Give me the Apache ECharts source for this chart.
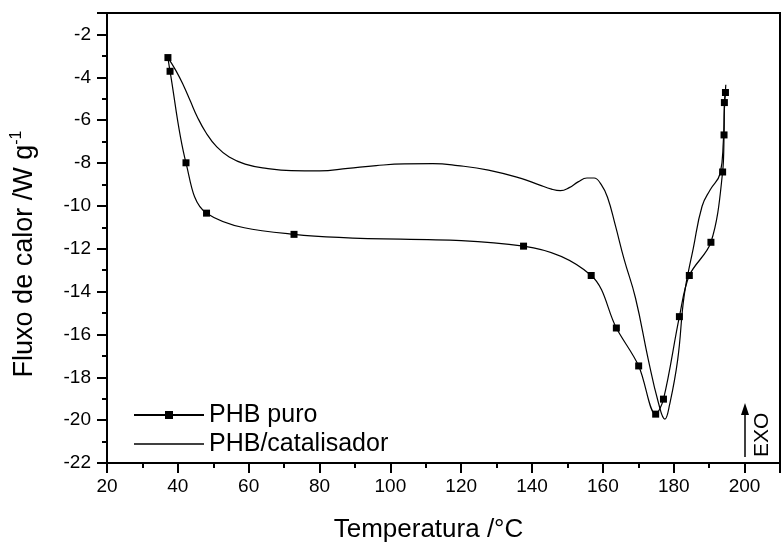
<!DOCTYPE html>
<html><head><meta charset="utf-8">
<script src="https://cdn.jsdelivr.net/npm/echarts@6/dist/echarts.min.js"></script>
<style>html,body{margin:0;padding:0;background:#fff}#c{width:783px;height:548px}</style>
</head><body><div id="c"></div>
<script>
// PHB puro (DSC curve with square markers)
const puroX = [37.2, 37.8, 42.3, 48.1, 72.8, 137.6, 156.7, 163.8, 170.1, 174.9, 177.1, 181.6, 184.4, 190.5, 193.8, 194.2, 194.3, 194.6];
const puroY = [-3.08, -3.72, -7.99, -10.34, -11.33, -11.88, -13.25, -15.70, -17.47, -19.72, -19.02, -15.17, -13.25, -11.70, -8.42, -6.69, -5.18, -4.71];
// PHB/catalisador (continuous trace, no markers)
const catX = [37.2, 39.5, 41.5, 43.5, 45.5, 48.0, 51.0, 54.5, 59.0, 65.0, 72.0, 80.0, 88.0, 96.0, 104.0, 112.0, 119.0, 127.7, 136.9, 142.0, 145.5, 148.0, 150.5, 153.0, 155.5, 157.5, 159.5, 161.3, 163.5, 166.0, 169.2, 172.8, 175.6, 177.5, 178.8, 181.1, 183.0, 185.5, 188.0, 190.3, 193.1, 194.0, 194.3, 194.7];
const catY = [-3.08, -3.7, -4.35, -5.1, -5.85, -6.6, -7.25, -7.72, -8.05, -8.25, -8.36, -8.37, -8.25, -8.12, -8.04, -8.03, -8.12, -8.33, -8.72, -9.02, -9.22, -9.29, -9.15, -8.88, -8.7, -8.7, -9.0, -9.6, -10.9, -12.5, -14.3, -17.16, -19.14, -19.95, -19.3, -17.2, -14.12, -12.0, -10.02, -9.25, -8.49, -7.0, -5.5, -4.35];
const seriesNames = ['PHB puro', 'PHB/catalisador'];
const xTitle = 'Temperatura /°C';
const yTitle = 'Fluxo de calor /W g';
const ySup = '-1';

const zip = (a, b) => a.map((v, i) => [v, b[i]]);
const chart = echarts.init(document.getElementById('c'), null, {renderer: 'canvas'});
const FONT = '"Liberation Sans", Arial, sans-serif';
chart.setOption({
  animation: false,
  backgroundColor: '#fff',
  grid: {left: 107, top: 13, width: 688, height: 460, show: true, borderColor: '#000', borderWidth: 2},
  xAxis: {
    type: 'value', min: 20, max: 210, interval: 20,
    name: xTitle, nameLocation: 'middle', nameGap: 54,
    nameTextStyle: {fontFamily: FONT, fontSize: 26, color: '#000', padding: [0, 30, 0, 0]},
    axisLine: {show: true, onZero: false, lineStyle: {color: '#000', width: 2}},
    axisTick: {show: true, inside: false, length: 10, lineStyle: {color: '#000', width: 2}},
    minorTick: {show: true, splitNumber: 2, length: 5, lineStyle: {color: '#000', width: 2}},
    axisLabel: {fontFamily: FONT, fontSize: 19, color: '#000', margin: 14,
      formatter: v => (v > 200 ? '' : String(v))},
    splitLine: {show: false}
  },
  yAxis: {
    type: 'value', min: -22, max: -1, interval: 2,
    name: '{m|' + yTitle + '}{s|' + ySup + '}', nameLocation: 'middle', nameGap: 66, nameRotate: 90,
    nameTextStyle: {fontFamily: FONT, fontSize: 27, color: '#000', padding: [0, 32, 0, 0],
      rich: {m: {fontFamily: FONT, fontSize: 27, color: '#000', lineHeight: 32},
             s: {fontFamily: FONT, fontSize: 16, color: '#000', verticalAlign: 'top', lineHeight: 16}}},
    axisLine: {show: true, onZero: false, lineStyle: {color: '#000', width: 2}},
    axisTick: {show: true, inside: false, length: 10, lineStyle: {color: '#000', width: 2}},
    minorTick: {show: true, splitNumber: 2, length: 5, lineStyle: {color: '#000', width: 2}},
    axisLabel: {fontFamily: FONT, fontSize: 19, color: '#000', margin: 16,
      formatter: v => (v > -2 ? '' : String(v))},
    splitLine: {show: false}
  },
  legend: {
    orient: 'vertical', left: 128, top: 397, itemWidth: 70, itemHeight: 10, itemGap: 3,
    textStyle: {fontFamily: FONT, fontSize: 25, color: '#000', lineHeight: 26},
    data: [{name: seriesNames[0]}, {name: seriesNames[1], icon: 'path://M0,0 L70,0 L70,1.3 L0,1.3 Z'}]
  },
  series: [
    {name: seriesNames[0], type: 'line', data: zip(puroX, puroY), smooth: 0.35,
     symbol: 'rect', symbolSize: 7, showSymbol: true,
     itemStyle: {color: '#000'}, lineStyle: {color: '#000', width: 1.2}},
    {name: seriesNames[1], type: 'line', data: zip(catX, catY), smooth: 0.45,
     symbol: 'none', showSymbol: false,
     itemStyle: {color: '#000'}, lineStyle: {color: '#000', width: 1.2}}
  ],
  graphic: [
    {type: 'line', shape: {x1: 745, y1: 457, x2: 745, y2: 412}, style: {stroke: '#000', lineWidth: 1.5}},
    {type: 'polygon', shape: {points: [[741, 415], [749, 415], [745, 403]]}, style: {fill: '#000'}},
    {type: 'text', x: 773, y: 457, rotation: Math.PI / 2,
     style: {text: 'EXO', font: '21px "Liberation Sans", Arial, sans-serif', fill: '#000', textAlign: 'left', textVerticalAlign: 'bottom'}}
  ]
});
</script></body></html>
